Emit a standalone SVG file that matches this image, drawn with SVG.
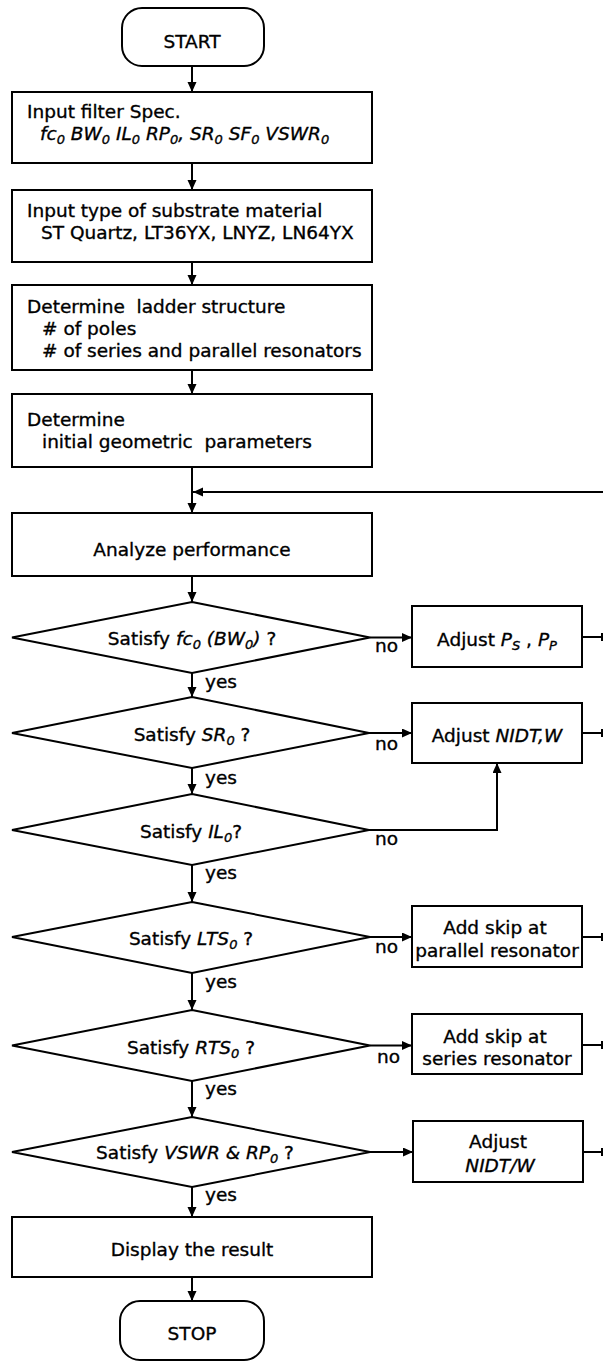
<svg xmlns="http://www.w3.org/2000/svg" width="603" height="1363" viewBox="0 0 603 1363">
  <style>
    .t { font-family: "DejaVu Sans", "Liberation Sans", sans-serif; font-size: 18.5px; fill: #000; stroke: #000; stroke-width: 0.35px; }
    .c { text-anchor: middle; }
    .i { font-style: italic; }
    .s { font-size: 13px; }
    .pre { white-space: pre; }
    .node { fill: #fff; stroke: #000; stroke-width: 2; }
    .edge { fill: none; stroke: #000; stroke-width: 2; }
  </style>
  <defs>
    <marker id="arrow" markerUnits="userSpaceOnUse" markerWidth="10" markerHeight="10" refX="10" refY="4.5" orient="auto">
      <path d="M0,0 L10,4.5 L0,9 z" fill="#000"/>
    </marker>
  </defs>
  <rect width="603" height="1363" fill="#fff"/>

  <!-- connectors -->
  <g id="connectors" class="edge">
    <line x1="192" y1="66" x2="192" y2="92" marker-end="url(#arrow)"/>
    <line x1="192" y1="163" x2="192" y2="190" marker-end="url(#arrow)"/>
    <line x1="192" y1="262" x2="192" y2="285" marker-end="url(#arrow)"/>
    <line x1="192" y1="370" x2="192" y2="394" marker-end="url(#arrow)"/>
    <line x1="192" y1="467" x2="192" y2="513" marker-end="url(#arrow)"/>
    <line x1="603" y1="492" x2="193" y2="492" marker-end="url(#arrow)"/>
    <line x1="192" y1="576" x2="192" y2="602" marker-end="url(#arrow)"/>
    <line x1="192" y1="673" x2="192" y2="697" marker-end="url(#arrow)"/>
    <line x1="192" y1="768" x2="192" y2="794" marker-end="url(#arrow)"/>
    <line x1="192" y1="865" x2="192" y2="902" marker-end="url(#arrow)"/>
    <line x1="192" y1="973" x2="192" y2="1010" marker-end="url(#arrow)"/>
    <line x1="192" y1="1081" x2="192" y2="1117" marker-end="url(#arrow)"/>
    <line x1="192" y1="1187" x2="192" y2="1217" marker-end="url(#arrow)"/>
    <line x1="192" y1="1277" x2="192" y2="1301" marker-end="url(#arrow)"/>
    <!-- "no" branches -->
    <line x1="370" y1="637.5" x2="412" y2="637.5" marker-end="url(#arrow)"/>
    <line x1="369" y1="733" x2="412" y2="733" marker-end="url(#arrow)"/>
    <polyline points="369,830 497,830 497,763" marker-end="url(#arrow)"/>
    <line x1="370" y1="937" x2="412" y2="937" marker-end="url(#arrow)"/>
    <line x1="370" y1="1045.5" x2="412" y2="1045.5" marker-end="url(#arrow)"/>
    <line x1="370" y1="1152" x2="413" y2="1152" marker-end="url(#arrow)"/>
    <!-- return lines toward the loop bus at the right edge -->
    <line x1="582" y1="637" x2="603" y2="637"/>
    <line x1="582" y1="733" x2="603" y2="733"/>
    <line x1="582" y1="937" x2="603" y2="937"/>
    <line x1="582" y1="1045" x2="603" y2="1045"/>
    <line x1="583" y1="1152" x2="603" y2="1152"/>
    <path d="M602,633 V641 M602,729 V737 M602,933 V941 M602,1041 V1049 M602,1148 V1156"/>
  </g>

  <!-- connector labels -->
  <g id="labels" class="t">
    <text x="205" y="688">yes</text>
    <text x="205" y="784">yes</text>
    <text x="205" y="879">yes</text>
    <text x="205" y="988">yes</text>
    <text x="205" y="1095">yes</text>
    <text x="205" y="1201">yes</text>
    <text x="375" y="652">no</text>
    <text x="375" y="750">no</text>
    <text x="375" y="845">no</text>
    <text x="375" y="953">no</text>
    <text x="377" y="1063">no</text>
  </g>

  <g id="start">
    <rect class="node" x="122" y="8" width="142" height="58" rx="20"/>
    <text class="t c" x="192" y="48">START</text>
  </g>

  <g id="input-spec">
    <rect class="node" x="12" y="92" width="360" height="71"/>
    <text class="t" x="27" y="118">Input filter Spec.</text>
    <text class="t i" x="40" y="140">fc<tspan class="s" dy="4">0</tspan><tspan dy="-4"> BW</tspan><tspan class="s" dy="4">0</tspan><tspan dy="-4"> IL</tspan><tspan class="s" dy="4">0</tspan><tspan dy="-4"> RP</tspan><tspan class="s" dy="4">0</tspan><tspan dy="-4">,  SR</tspan><tspan class="s" dy="4">0</tspan><tspan dy="-4"> SF</tspan><tspan class="s" dy="4">0</tspan><tspan dy="-4"> VSWR</tspan><tspan class="s" dy="4">0</tspan></text>
  </g>

  <g id="input-substrate">
    <rect class="node" x="12" y="190" width="360" height="72"/>
    <text class="t" x="27" y="217">Input type of substrate material</text>
    <text class="t" x="41" y="239">ST Quartz, LT36YX, LNYZ, LN64YX</text>
  </g>

  <g id="ladder-structure">
    <rect class="node" x="12" y="285" width="360" height="85"/>
    <text class="t pre" x="27" y="313">Determine  ladder structure</text>
    <text class="t" x="42" y="335"># of poles</text>
    <text class="t" x="42" y="357"># of series and parallel resonators</text>
  </g>

  <g id="initial-parameters">
    <rect class="node" x="12" y="394" width="360" height="73"/>
    <text class="t" x="27" y="426">Determine</text>
    <text class="t pre" x="42" y="448">initial geometric  parameters</text>
  </g>

  <g id="analyze">
    <rect class="node" x="12" y="513" width="360" height="63"/>
    <text class="t c" x="192" y="556">Analyze performance</text>
  </g>

  <g id="check-fc">
    <polygon class="node" points="192,602 370,637.5 192,673 12,637.5"/>
    <text class="t c" x="192" y="645">Satisfy <tspan class="i">fc</tspan><tspan class="i s" dy="4">0</tspan><tspan class="i" dy="-4"> (BW</tspan><tspan class="i s" dy="4">0</tspan><tspan class="i" dy="-4">)</tspan> ?</text>
  </g>

  <g id="check-sr">
    <polygon class="node" points="192,697 369,733 192,768 12,733"/>
    <text class="t c" x="192" y="741">Satisfy <tspan class="i">SR</tspan><tspan class="i s" dy="4">0</tspan><tspan dy="-4"> ?</tspan></text>
  </g>

  <g id="check-il">
    <polygon class="node" points="192,794 369,830 192,865 12,830"/>
    <text class="t c" x="191" y="838">Satisfy <tspan class="i">IL</tspan><tspan class="i s" dy="4">0</tspan><tspan dy="-4">?</tspan></text>
  </g>

  <g id="check-lts">
    <polygon class="node" points="192,902 370,937 192,973 12,937"/>
    <text class="t c" x="191" y="945">Satisfy <tspan class="i">LTS</tspan><tspan class="i s" dy="4">0</tspan><tspan dy="-4"> ?</tspan></text>
  </g>

  <g id="check-rts">
    <polygon class="node" points="192,1010 370,1045.5 192,1081 12,1045.5"/>
    <text class="t c" x="191" y="1054">Satisfy <tspan class="i">RTS</tspan><tspan class="i s" dy="4">0</tspan><tspan dy="-4"> ?</tspan></text>
  </g>

  <g id="check-vswr">
    <polygon class="node" points="192,1117 370,1152 192,1187 12,1152"/>
    <text class="t c" x="195" y="1159">Satisfy <tspan class="i">VSWR &amp; RP</tspan><tspan class="i s" dy="4">0</tspan><tspan dy="-4"> ?</tspan></text>
  </g>

  <g id="display">
    <rect class="node" x="12" y="1217" width="360" height="60"/>
    <text class="t c" x="192" y="1256">Display the result</text>
  </g>

  <g id="stop">
    <rect class="node" x="120" y="1301" width="144" height="59" rx="20"/>
    <text class="t c" x="192" y="1340">STOP</text>
  </g>

  <g id="adjust-ps-pp">
    <rect class="node" x="412" y="606" width="170" height="61"/>
    <text class="t c" x="497" y="646">Adjust <tspan class="i">P</tspan><tspan class="i s" dy="4">S</tspan><tspan dy="-4"> , </tspan><tspan class="i">P</tspan><tspan class="i s" dy="4">P</tspan></text>
  </g>

  <g id="adjust-nidt-w">
    <rect class="node" x="412" y="703" width="170" height="60"/>
    <text class="t c" x="497" y="742">Adjust <tspan class="i">NIDT,W</tspan></text>
  </g>

  <g id="skip-parallel">
    <rect class="node" x="412" y="906" width="170" height="61"/>
    <text class="t c" x="495" y="934">Add skip at</text>
    <text class="t c" x="497" y="957">parallel resonator</text>
  </g>

  <g id="skip-series">
    <rect class="node" x="412" y="1014" width="170" height="60"/>
    <text class="t c" x="495" y="1043">Add skip at</text>
    <text class="t c" x="497" y="1065">series resonator</text>
  </g>

  <g id="adjust-nidt-over-w">
    <rect class="node" x="413" y="1121" width="170" height="61"/>
    <text class="t c" x="498" y="1148">Adjust</text>
    <text class="t c i" x="500" y="1172">NIDT/W</text>
  </g>
</svg>
